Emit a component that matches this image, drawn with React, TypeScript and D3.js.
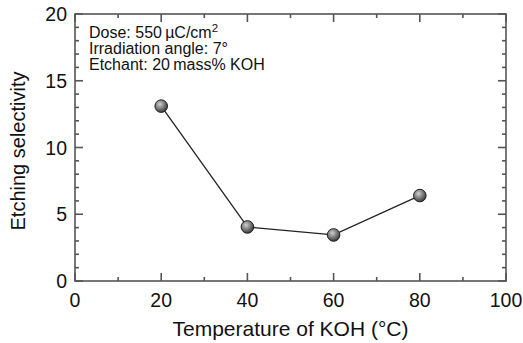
import React from "react";
import * as d3 from "d3";

const temps = [20, 40, 60, 80];
const selectivity = [13.1, 4.05, 3.45, 6.4];
const xTicks = [0, 20, 40, 60, 80, 100];
const yTicks = [0, 5, 10, 15, 20];
const annotations = ["Dose: 550\u2009\u00b5C/cm", "Irradiation angle: 7\u00b0", "Etchant: 20\u2009mass% KOH"];

const W = 523, H = 343;
const M = { left: 75, right: 506, top: 14, bottom: 281 };

export default function App() {
  const x = d3.scaleLinear().domain([0, 100]).range([M.left, M.right]);
  const y = d3.scaleLinear().domain([0, 20]).range([M.bottom, M.top]);
  const line = d3.line<number>().x((_, i) => x(temps[i])).y((d) => y(d));
  const xMinor = d3.range(0, 101, 10).filter((v) => v % 20 !== 0);
  const yMinor = d3.range(0, 21, 1).filter((v) => v % 5 !== 0);
  const axisColor = "#555";
  const font = "Liberation Sans, Arial, sans-serif";
  return (
    <svg width={W} height={H} style={{ position: "absolute", left: 0, top: 0, background: "#fff" }}>
      <defs>
        <radialGradient id="ball" cx="40%" cy="35%" r="65%">
          <stop offset="0%" stopColor="#d0d0d0" />
          <stop offset="45%" stopColor="#8a8a8a" />
          <stop offset="100%" stopColor="#3a3a3a" />
        </radialGradient>
      </defs>
      <rect x={0} y={0} width={W} height={H} fill="#fff" />
      <g stroke={axisColor} strokeWidth={1.6} fill="none">
        <rect x={M.left} y={M.top} width={M.right - M.left} height={M.bottom - M.top} />
        {xTicks.map((t) => (
          <g key={"xt" + t}>
            <line x1={x(t)} x2={x(t)} y1={M.bottom} y2={M.bottom - 8} />
            <line x1={x(t)} x2={x(t)} y1={M.top} y2={M.top + 8} />
          </g>
        ))}
        {xMinor.map((t) => (
          <g key={"xm" + t}>
            <line x1={x(t)} x2={x(t)} y1={M.bottom} y2={M.bottom - 4} />
            <line x1={x(t)} x2={x(t)} y1={M.top} y2={M.top + 4} />
          </g>
        ))}
        {yTicks.map((t) => (
          <g key={"yt" + t}>
            <line x1={M.left} x2={M.left + 8} y1={y(t)} y2={y(t)} />
            <line x1={M.right} x2={M.right - 8} y1={y(t)} y2={y(t)} />
          </g>
        ))}
        {yMinor.map((t) => (
          <g key={"ym" + t}>
            <line x1={M.left} x2={M.left + 4} y1={y(t)} y2={y(t)} />
            <line x1={M.right} x2={M.right - 4} y1={y(t)} y2={y(t)} />
          </g>
        ))}
      </g>
      <g fontFamily={font} fontSize={19.5} fill="#111">
        {xTicks.map((t) => (
          <text key={"xl" + t} x={x(t)} y={307} textAnchor="middle">{t}</text>
        ))}
        {yTicks.map((t) => (
          <text key={"yl" + t} x={67} y={y(t) + 7} textAnchor="end">{t}</text>
        ))}
      </g>
      <g fontFamily={font} fontSize={21} fill="#111">
        <text x={(M.left + M.right) / 2} y={336} textAnchor="middle">Temperature of KOH (°C)</text>
        <text transform={`translate(25,151) rotate(-90)`} fontSize={20} textAnchor="middle">Etching selectivity</text>
      </g>
      <g fontFamily={font} fontSize={16} fill="#111">
        <text x={89} y={38}>
          {annotations[0]}
          <tspan dy={-6} fontSize={11.5}>2</tspan>
        </text>
        <text x={89} y={54}>{annotations[1]}</text>
        <text x={89} y={70}>{annotations[2]}</text>
      </g>
      <path d={line(selectivity) || ""} fill="none" stroke="#222" strokeWidth={1.3} />
      {selectivity.map((v, i) => (
        <circle key={"p" + i} cx={x(temps[i])} cy={y(v)} r={6.3} fill="url(#ball)" stroke="#222" strokeWidth={1} />
      ))}
    </svg>
  );
}
